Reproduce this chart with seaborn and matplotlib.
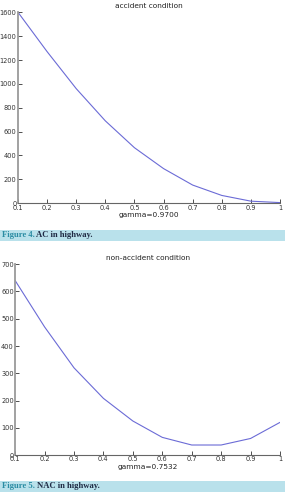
import pandas as pd
import matplotlib
matplotlib.use('Agg')
import matplotlib.pyplot as plt
import seaborn as sns

# data
gamma = [0.1, 0.2, 0.3, 0.4, 0.5, 0.6, 0.7, 0.8, 0.9, 1.0]
ac_values = [1600, 1270, 960, 690, 465, 290, 152, 65, 17, 5]
nac_values = [640, 470, 320, 208, 125, 65, 37, 37, 61, 120]
xtick_labels = ['0.1', '0.2', '0.3', '0.4', '0.5', '0.6', '0.7', '0.8', '0.9', '1']
ac_yticks = [0, 200, 400, 600, 800, 1000, 1200, 1400, 1600]
nac_yticks = [0, 100, 200, 300, 400, 500, 600, 700]

ac = pd.DataFrame({'gamma': gamma, 'value': ac_values})
nac = pd.DataFrame({'gamma': gamma, 'value': nac_values})

sns.set_style('ticks')
plt.rcParams['font.family'] = ['DejaVu Sans']

line_color = '#6b6bd6'
band_color = '#b9e1eb'

fig = plt.figure(figsize=(2.86, 4.92), dpi=100)


def panel(rect, df, title, xlabel, yticks):
    ax = fig.add_axes(rect)
    sns.lineplot(data=df, x='gamma', y='value', ax=ax, color=line_color, linewidth=0.8)
    ax.set_xlim(0.1, 1.0)
    ax.set_ylim(yticks[0], yticks[-1])
    ax.set_xticks(gamma)
    ax.set_xticklabels(xtick_labels)
    ax.set_yticks(yticks)
    ax.tick_params(direction='in', length=3, width=0.6, labelsize=4.8, pad=1, colors='#333333')
    ax.set_title(title, fontsize=5.3, pad=3, color='#222222')
    ax.set_xlabel(xlabel, fontsize=5.3, labelpad=1, color='#222222')
    ax.set_ylabel('')
    sns.despine(ax=ax)
    ax.spines['left'].set_color('#9a9a9a')
    ax.spines['left'].set_linewidth(1.3)
    ax.spines['bottom'].set_color('#666666')
    ax.spines['bottom'].set_linewidth(0.8)
    return ax


panel([0.063, 0.587, 0.916, 0.388], ac, 'accident condition', 'gamma=0.9700', ac_yticks)
panel([0.053, 0.075, 0.926, 0.388], nac, 'non-accident condition', 'gamma=0.7532', nac_yticks)


def caption(y0, h, num, text):
    fig.patches.append(plt.Rectangle((0, y0), 0.995, h, transform=fig.transFigure,
                                     facecolor=band_color, edgecolor='none'))
    t = fig.text(0.006, y0 + h / 2, num, fontsize=6.2, family='Liberation Serif',
                 fontweight='bold', color='#2a8ca3', va='center')
    fig.canvas.draw()
    bb = t.get_window_extent()
    x1 = bb.x1 / fig.bbox.width
    fig.text(x1 + 0.007, y0 + h / 2, text, fontsize=6.2, family='Liberation Serif',
             fontweight='bold', color='#1f2a44', va='center')


caption(1 - 241 / 492, 11 / 492, 'Figure 4.', 'AC in highway.')
caption(0.0, 11 / 492, 'Figure 5.', 'NAC in highway.')

fig.savefig('out.png', dpi=100)
